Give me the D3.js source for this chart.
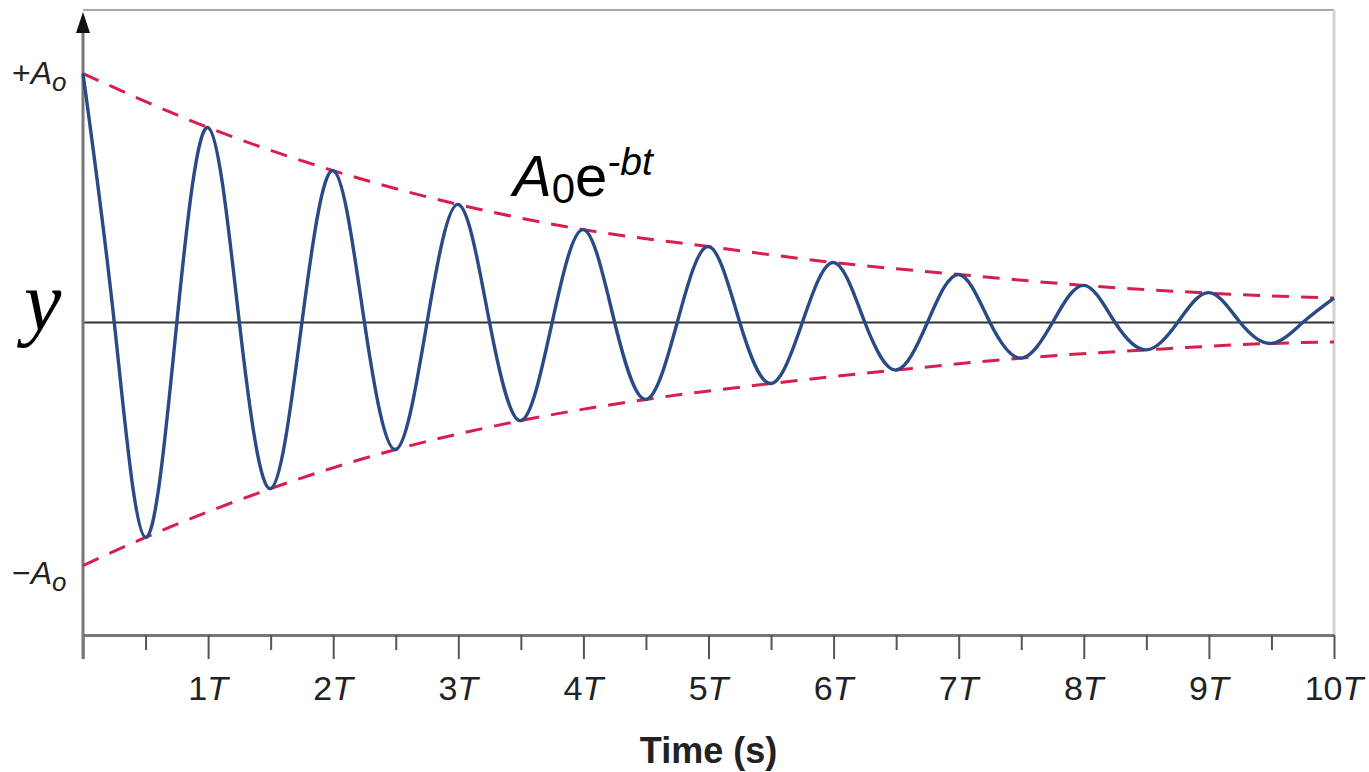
<!DOCTYPE html>
<html>
<head>
<meta charset="utf-8">
<script src="https://cdn.jsdelivr.net/npm/d3@7"></script>
<style>
  body { margin: 0; background: #fff; }
  text { font-family: "Liberation Sans", Arial, sans-serif; }
</style>
</head>
<body>
<div class="chart"></div>
<script>
// Data (time in periods T, displacement in units of A0)
var oscTime = [0, 0.25, 0.5, 0.75, 1, 1.25, 1.5, 1.75, 2, 2.25, 2.5, 2.75, 3, 3.25, 3.5, 3.75, 4,
  4.25, 4.5, 4.75, 5, 5.25, 5.5, 5.75, 6, 6.25, 6.5, 6.75, 7, 7.25, 7.5, 7.75, 8, 8.25, 8.5, 8.75,
  9, 9.25, 9.5, 9.75, 10];
var oscValue = [1.0, 0, -0.863, 0, 0.783, 0, -0.667, 0, 0.610, 0, -0.510, 0, 0.474, 0, -0.394, 0, 0.373,
  0, -0.309, 0, 0.305, 0, -0.245, 0, 0.241, 0, -0.191, 0, 0.193, 0, -0.143, 0, 0.149, 0, -0.110, 0,
  0.120, 0, -0.084, 0, 0.098];

var upperTime = [0, 1, 2, 3, 4, 5, 6, 7, 8, 9, 10];
var upperValue = [1.0, 0.783, 0.610, 0.474, 0.373, 0.305, 0.241, 0.193, 0.149, 0.118, 0.098];

var lowerTime = [0, 0.5, 1.5, 2.5, 3.5, 4.5, 5.5, 6.5, 7.5, 8.5, 9.5, 10];
var lowerValue = [-0.976, -0.863, -0.667, -0.510, -0.394, -0.309, -0.245, -0.191, -0.143, -0.110, -0.084, -0.078];

var majorTicks = [0, 1, 2, 3, 4, 5, 6, 7, 8, 9, 10];
var minorTicks = [0.5, 1.5, 2.5, 3.5, 4.5, 5.5, 6.5, 7.5, 8.5, 9.5];

// Set up the chart
var svgWidth = 1369;
var svgHeight = 772;
var margin = { top: 10, right: 35, bottom: 137, left: 83 };
var width = svgWidth - margin.left - margin.right;
var height = svgHeight - margin.top - margin.bottom;

var svg = d3.select(".chart")
  .append("svg")
  .attr("width", svgWidth)
  .attr("height", svgHeight);

var chart = svg.append("g")
  .attr("transform", "translate(" + margin.left + "," + margin.top + ")");

var x = d3.scaleLinear().domain([0, 10]).range([0, width]);
var y = d3.scaleLinear().domain([-1.255, 1.255]).range([height, 0]);

// frame: top and right borders
chart.append("line")
  .attr("x1", 0).attr("x2", width).attr("y1", 0).attr("y2", 0)
  .attr("stroke", "#a8a8a8").attr("stroke-width", 2);
chart.append("line")
  .attr("x1", width).attr("x2", width).attr("y1", 0).attr("y2", height)
  .attr("stroke", "#d4d4d4").attr("stroke-width", 3);

// zero line
chart.append("line")
  .attr("x1", 0).attr("x2", width).attr("y1", y(0)).attr("y2", y(0))
  .attr("stroke", "#333").attr("stroke-width", 1.8);

// bottom axis with major and minor ticks
var bottomAxis = d3.axisBottom(x)
  .tickValues(majorTicks)
  .tickSize(24)
  .tickSizeOuter(0);

var xAxis = chart.append("g")
  .attr("transform", "translate(0," + height + ")")
  .call(bottomAxis);
xAxis.select(".domain").attr("stroke", "#777").attr("stroke-width", 3);
xAxis.selectAll(".tick line").attr("stroke", "#555").attr("stroke-width", 2);
xAxis.selectAll(".tick text").remove();

chart.append("g")
  .attr("transform", "translate(0," + height + ")")
  .call(d3.axisBottom(x).tickValues(minorTicks).tickSize(15).tickFormat(""))
  .call(function(g) { g.select(".domain").remove(); })
  .selectAll(".tick line").attr("stroke", "#555").attr("stroke-width", 2);

// tick labels like "1T" with italic T
var labels = chart.append("g").selectAll("text")
  .data(majorTicks.filter(function(d) { return d > 0; }))
  .enter()
  .append("text")
  .attr("x", function(d) { return x(d); })
  .attr("y", height + 65)
  .attr("text-anchor", "middle")
  .style("font-size", "34px")
  .attr("fill", "#222");
labels.append("tspan").text(function(d) { return d; });
labels.append("tspan").style("font-style", "italic").text("T");

// axis title
chart.append("text")
  .attr("x", x(5))
  .attr("y", height + 128)
  .attr("text-anchor", "middle")
  .style("font-size", "36px")
  .style("font-weight", "bold")
  .attr("fill", "#222")
  .text("Time (s)");

// y axis line with arrow
chart.append("line")
  .attr("x1", 0).attr("x2", 0).attr("y1", 18).attr("y2", height + 24)
  .attr("stroke", "#777").attr("stroke-width", 3);
chart.append("path")
  .attr("d", "M0,2 L-7,23 L7,23 Z")
  .attr("fill", "#111");

// envelope (dashed)
var envLine = d3.line()
  .x(function(d) { return x(d[0]); })
  .y(function(d) { return y(d[1]); })
  .curve(d3.curveMonotoneX);

chart.append("path")
  .datum(d3.zip(upperTime, upperValue))
  .attr("d", envLine)
  .attr("fill", "none")
  .attr("stroke", "#d81e4e")
  .attr("stroke-width", 3)
  .attr("stroke-dasharray", "17,12");

chart.append("path")
  .datum(d3.zip(lowerTime, lowerValue))
  .attr("d", envLine)
  .attr("fill", "none")
  .attr("stroke", "#d81e4e")
  .attr("stroke-width", 3)
  .attr("stroke-dasharray", "17,12");

// damped oscillation
var oscLine = d3.line()
  .x(function(d) { return x(d[0]); })
  .y(function(d) { return y(d[1]); })
  .curve(d3.curveNatural);

chart.append("path")
  .datum(d3.zip(oscTime, oscValue))
  .attr("d", oscLine)
  .attr("fill", "none")
  .attr("stroke", "#294a86")
  .attr("stroke-width", 3.4);

// left labels
var plusA = svg.append("text")
  .attr("x", 12).attr("y", 84)
  .style("font-size", "32px")
  .attr("fill", "#222");
plusA.append("tspan").text("+");
plusA.append("tspan").style("font-style", "italic").text("A");
plusA.append("tspan").style("font-style", "italic").style("font-size", "26px").attr("dy", 7).text("o");

var minusA = svg.append("text")
  .attr("x", 12).attr("y", 584)
  .style("font-size", "32px")
  .attr("fill", "#222");
minusA.append("tspan").text("\u2212");
minusA.append("tspan").style("font-style", "italic").text("A");
minusA.append("tspan").style("font-style", "italic").style("font-size", "26px").attr("dy", 7).text("o");

svg.append("text")
  .attr("x", 24).attr("y", 330)
  .style("font-family", "'Liberation Serif', 'DejaVu Serif', serif")
  .style("font-style", "italic")
  .style("font-size", "84px")
  .attr("fill", "#000")
  .text("y");

// envelope formula
var formula = svg.append("text")
  .attr("x", 513).attr("y", 196)
  .style("font-size", "58px")
  .attr("fill", "#000");
formula.append("tspan").style("font-style", "italic").text("A");
formula.append("tspan").style("font-size", "42px").attr("dy", 7).text("0");
formula.append("tspan").attr("dy", -7).text("e");
formula.append("tspan").style("font-style", "italic").style("font-size", "39px").attr("dy", -21).text("-bt");
</script>
</body>
</html>
